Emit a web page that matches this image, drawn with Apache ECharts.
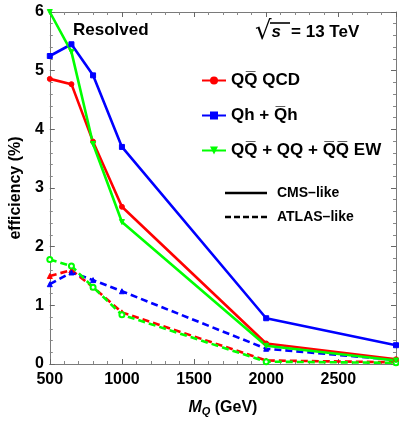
<!DOCTYPE html>
<html lang="en">
<head>
    <meta charset="UTF-8">
    <title>Resolved efficiency</title>
    <script src="https://cdn.jsdelivr.net/npm/echarts@6/dist/echarts.min.js"></script>
    <style>
        html, body { margin: 0; padding: 0; background: #fff; }
        #container { width: 399px; height: 423px; }
    </style>
</head>
<body>
<div id="container"></div>
<script>
    // heavy quark mass points (GeV)
    var massPoints = [500, 650, 800, 1000, 2000, 2900];
    var xTicks = [500, 1000, 1500, 2000, 2500];
    var yTicks = [0, 1, 2, 3, 4, 5, 6];

    // CMS-like (solid)
    var cmsQCD = [4.86, 4.77, 3.79, 2.68, 0.35, 0.08];
    var cmsQh  = [5.25, 5.45, 4.92, 3.70, 0.78, 0.32];
    var cmsEW  = [6.00, 5.32, 3.75, 2.42, 0.31, 0.06];

    // ATLAS-like (dashed)
    var atlasQCD = [1.50, 1.60, 1.31, 0.88, 0.06, 0.03];
    var atlasQh  = [1.36, 1.56, 1.43, 1.24, 0.26, 0.07];
    var atlasEW  = [1.78, 1.67, 1.31, 0.84, 0.04, 0.02];

    var seriesNames = ['QQ\u0305 QCD', 'Qh + Q\u0305h', 'QQ\u0305 + QQ + Q\u0305Q\u0305 EW'];

    var RED = '#ff0000', BLUE = '#0000ff', GREEN = '#00ff00';
    var FONT = 'Liberation Sans, Arial, sans-serif';
    var FRAME = '#7a7a7a';

    function pairs(vals) {
        var out = [];
        for (var i = 0; i < massPoints.length; i++) out.push([massPoints[i], vals[i]]);
        return out;
    }

    function mkSeries(name, vals, color, symbol, dashed, rotate) {
        return {
            name: name,
            type: 'line',
            data: pairs(vals),
            symbol: symbol,
            symbolSize: 5,
            symbolRotate: rotate || 0,
            showSymbol: true,
            lineStyle: { color: color, width: 2.6, type: dashed ? [7, 4] : 'solid' },
            itemStyle: { color: color, borderColor: color },
            z: dashed ? 3 : 4,
            animation: false
        };
    }

    // Mathematica-style frame ticks, pointing inward
    function tickCfg() {
        return { show: true, inside: true, length: 5, lineStyle: { color: '#666', width: 1 } };
    }
    function minorCfg() {
        return { show: true, splitNumber: 5, length: 3, lineStyle: { color: '#888', width: 1 } };
    }

    var dom = document.getElementById('container');
    var myChart = echarts.init(dom, null, { renderer: 'canvas' });

    var option = {
        animation: false,
        textStyle: { fontFamily: FONT },
        grid: { left: 44, right: 2, top: 12, bottom: 59 },
        legend: {
            data: seriesNames,
            orient: 'vertical',
            left: 196,
            top: 67,
            itemWidth: 24,
            itemHeight: 10,
            itemGap: 18,
            textStyle: { fontSize: 17, fontWeight: 'bold', color: '#000', fontFamily: FONT }
        },
        xAxis: [{
            type: 'value',
            min: 500,
            max: 2900,
            interval: 500,
            name: '{m|M}{q|Q}{g| (GeV)}',
            nameLocation: 'middle',
            nameGap: 34,
            nameTextStyle: {
                rich: {
                    m: { fontSize: 16, fontWeight: 'bold', fontStyle: 'italic', color: '#000', fontFamily: FONT },
                    q: { fontSize: 11, fontWeight: 'bold', fontStyle: 'italic', color: '#000', fontFamily: FONT, verticalAlign: 'bottom', padding: [8, 0, 0, 0] },
                    g: { fontSize: 16, fontWeight: 'bold', color: '#000', fontFamily: FONT }
                }
            },
            axisLine: { show: true, onZero: false, lineStyle: { color: FRAME, width: 1 } },
            axisTick: tickCfg(),
            minorTick: minorCfg(),
            splitLine: { show: false },
            axisLabel: {
                fontSize: 16, fontWeight: 'bold', color: '#000', margin: 8,
                formatter: function (v) { return xTicks.indexOf(v) >= 0 ? String(v) : ''; }
            }
        }, {
            type: 'value',
            position: 'top',
            min: 500,
            max: 2900,
            interval: 500,
            axisLine: { show: true, onZero: false, lineStyle: { color: FRAME, width: 1 } },
            axisTick: tickCfg(),
            minorTick: minorCfg(),
            splitLine: { show: false },
            axisLabel: { show: false }
        }],
        yAxis: [{
            type: 'value',
            min: 0,
            max: 6,
            interval: 1,
            name: 'efficiency (%)',
            nameLocation: 'middle',
            nameGap: 24,
            nameTextStyle: { fontSize: 16, fontWeight: 'bold', color: '#000', fontFamily: FONT },
            axisLine: { show: true, onZero: false, lineStyle: { color: FRAME, width: 1 } },
            axisTick: tickCfg(),
            minorTick: minorCfg(),
            splitLine: { show: false },
            axisLabel: {
                fontSize: 16, fontWeight: 'bold', color: '#000', margin: 6,
                formatter: function (v) { return yTicks.indexOf(v) >= 0 ? String(v) : ''; }
            }
        }, {
            type: 'value',
            position: 'right',
            min: 0,
            max: 6,
            interval: 1,
            axisLine: { show: true, onZero: false, lineStyle: { color: FRAME, width: 1 } },
            axisTick: tickCfg(),
            minorTick: minorCfg(),
            splitLine: { show: false },
            axisLabel: { show: false }
        }],
        graphic: [
            {
                type: 'text', left: 73, top: 22,
                style: { text: 'Resolved', fontSize: 17, fontWeight: 'bold', fill: '#000', fontFamily: FONT }
            },
            {
                type: 'text', left: 255, top: 19,
                style: {
                    text: '{r|\u221a}{s|s}{t|= 13 TeV}',
                    rich: {
                        r: { fontSize: 26, fill: '#000', fontFamily: 'DejaVu Sans' },
                        s: { fontSize: 17, fontStyle: 'italic', fontWeight: 'bold', fill: '#000', fontFamily: FONT },
                        t: { fontSize: 17, fontWeight: 'bold', fill: '#000', fontFamily: FONT, padding: [0, 0, 0, 10] }
                    }
                }
            },
            {
                type: 'line', shape: { x1: 270, y1: 23, x2: 290, y2: 23 },
                style: { stroke: '#000', lineWidth: 1.6 }
            },
            {
                type: 'line', shape: { x1: 225, y1: 193, x2: 267, y2: 193 },
                style: { stroke: '#000', lineWidth: 2.4 }
            },
            {
                type: 'text', left: 277, top: 186,
                style: { text: 'CMS\u2013like', fontSize: 14, fontWeight: 'bold', fill: '#000', fontFamily: FONT }
            },
            {
                type: 'line', shape: { x1: 225, y1: 217, x2: 267, y2: 217 },
                style: { stroke: '#000', lineWidth: 2.4, lineDash: [6, 3] }
            },
            {
                type: 'text', left: 277, top: 210,
                style: { text: 'ATLAS\u2013like', fontSize: 14, fontWeight: 'bold', fill: '#000', fontFamily: FONT }
            }
        ],
        series: [
            mkSeries('atlasQCD', atlasQCD, RED, 'triangle', true),
            mkSeries('atlasQh', atlasQh, BLUE, 'triangle', true),
            mkSeries('atlasEW', atlasEW, GREEN, 'emptyCircle', true),
            mkSeries(seriesNames[0], cmsQCD, RED, 'circle', false),
            mkSeries(seriesNames[1], cmsQh, BLUE, 'rect', false),
            mkSeries(seriesNames[2], cmsEW, GREEN, 'triangle', false, 180)
        ]
    };

    if (option && typeof option === 'object') {
        myChart.setOption(option);
    }
</script>
</body>
</html>
